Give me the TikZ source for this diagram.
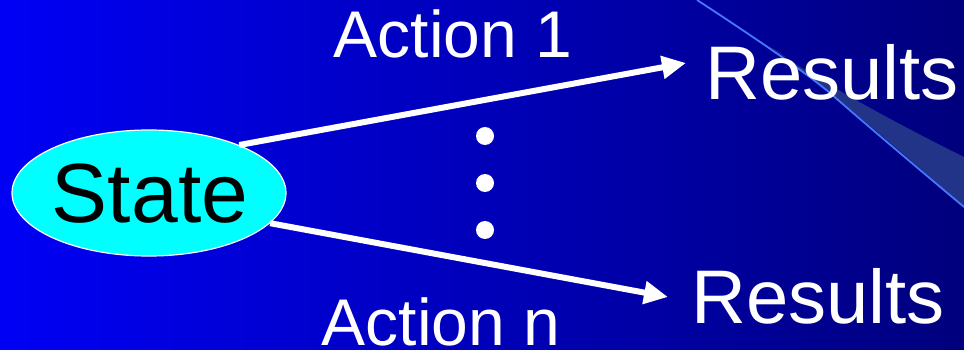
\documentclass[tikz,border=0pt]{standalone}
\usepackage{fontspec}
\setmainfont{Liberation Sans}
\usetikzlibrary{arrows.meta,shapes.geometric}
\definecolor{bgleft}{RGB}{0,0,245}
\definecolor{bgright}{RGB}{0,0,125}
\definecolor{swline}{RGB}{70,120,255}
\definecolor{swband}{RGB}{33,52,135}
\definecolor{statefill}{RGB}{0,255,255}
\tikzset{
  lbl/.style={text=white, inner sep=0pt, anchor=base},
  arr/.style={draw=white, line width=6pt, -{Triangle[length=24pt,width=22pt]}},
  dot/.style={circle, fill=white, minimum size=18pt, inner sep=0pt},
}
\begin{document}
\begin{tikzpicture}[x=1pt,y=-1pt]
\useasboundingbox (0,0) rectangle (964,350);
\shade[left color=bgleft, right color=bgright] (0,0) rectangle (964,350);
% swoosh
\fill[swband] (765,44) .. controls (830,88) and (900,125) .. (964,157)
  -- (964,207) .. controls (900,150) and (840,100) .. (780,53) -- cycle;
\draw[swline, line width=1.8pt] (697,0) .. controls (740,28) and (800,68) .. (830,93)
  .. controls (870,128) and (920,170) .. (964,207);
% nodes
\node[ellipse, draw=white, line width=1.2pt, fill=statefill, minimum width=274pt,
      minimum height=126pt, inner sep=0pt] (state) at (149,193) {};
\node[lbl, font=\fontsize{84}{84}\selectfont, text=black] (statet) at (150,222) {State};
\node[lbl, font=\fontsize{66}{66}\selectfont] (act1) at (453,58) {Action 1};
\node[lbl, font=\fontsize{66}{66}\selectfont] (actn) at (441,345) {Action n};
\node[lbl, anchor=base west, font=\fontsize{76}{76}\selectfont] (res1) at (705,100) {Results};
\node[lbl, anchor=base west, font=\fontsize{76}{76}\selectfont] (resn) at (691,323) {Results};
\coordinate (tip1) at (686,63);
\coordinate (tipn) at (668,297);
\draw[arr] (state.28.3) -- (tip1);
\draw[arr] (state.-14.8) -- (tipn);
\node[dot] (d1) at (485,136) {};
\node[dot] (d2) at (485,183) {};
\node[dot] (d3) at (485,230) {};
\end{tikzpicture}
\end{document}
